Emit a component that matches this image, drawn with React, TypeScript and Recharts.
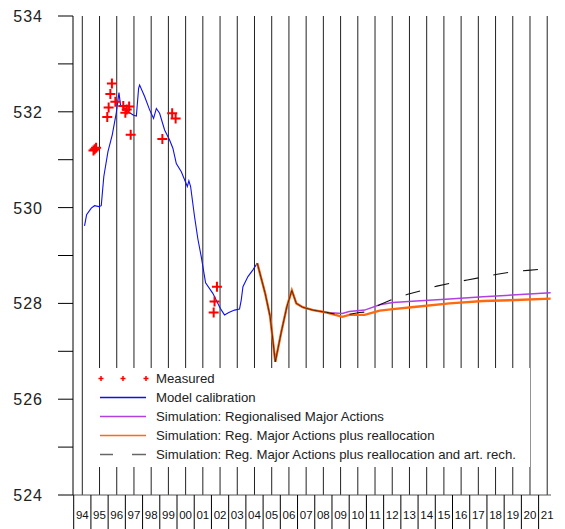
import React from "react";
import {
  ComposedChart,
  Line,
  Scatter,
  XAxis,
  YAxis,
  ReferenceLine,
} from "recharts";

// groundwater level (m)
const calibYears = [
  1994.13, 1994.25, 1994.52, 1994.71, 1994.97, 1995.1, 1995.25, 1995.49, 1995.74, 1995.97,
  1996.13, 1996.22, 1996.46, 1996.75, 1996.98, 1997.14, 1997.27, 1997.33, 1997.62, 1997.91,
  1998.14, 1998.3, 1998.49, 1998.78, 1999.07, 1999.26, 1999.46, 1999.75, 2000.1, 2000.19,
  2000.29, 2000.52, 2000.71, 2000.91, 2001.16, 2001.58, 2002.01, 2002.26, 2002.51, 2002.84,
  2003.13, 2003.23, 2003.33, 2003.62, 2003.91, 2004.16,
];
const calibLevels = [
  529.62, 529.85, 529.99, 530.04, 530.02, 530.04, 530.65, 531.17, 531.52, 531.97,
  532.4, 532.14, 532.07, 531.98, 531.93, 531.91, 532.49, 532.56, 532.32, 532.04,
  531.86, 532.07, 531.97, 531.62, 531.41, 531.24, 530.92, 530.75, 530.44, 530.56,
  530.44, 529.81, 529.35, 528.97, 528.43, 528.21, 527.9, 527.76, 527.81, 527.86,
  527.88, 528.07, 528.35, 528.56, 528.7, 528.84,
];

// all three simulations share this stretch
const simYears = [2004.16, 2004.62, 2004.91, 2005.21, 2005.56, 2005.88, 2006.17, 2006.43, 2006.8, 2007.4, 2008.2];
const simLevels = [528.84, 528.21, 527.72, 526.78, 527.41, 527.93, 528.27, 528.0, 527.92, 527.86, 527.81];

const forecastYears = [2009.1, 2009.5, 2010.4, 2011.27, 2012.04, 2013.4, 2015.33, 2017.27, 2019.2, 2021.2];
const regionalLevels = [527.79, 527.83, 527.86, 527.97, 528.02, 528.05, 528.09, 528.14, 528.18, 528.22];
const reallocLevels = [527.72, 527.76, 527.76, 527.85, 527.88, 527.93, 528.0, 528.05, 528.07, 528.1];

const rechargeYears = [
  2008.2, 2009.1, 2010.1, 2010.5, 2011.27, 2012.04, 2012.9, 2013.74, 2014.59, 2015.48,
  2016.36, 2017.27, 2018.1, 2019.0, 2019.88, 2020.79, 2021.2,
];
const rechargeLevels = [
  527.81, 527.75, 527.81, 527.82, 527.97, 528.09, 528.19, 528.27, 528.36, 528.43,
  528.49, 528.55, 528.61, 528.66, 528.69, 528.72, 528.74,
];

const measuredYears = [
  1994.65, 1994.72, 1994.8, 1995.45, 1995.53, 1995.63, 1995.72, 1995.92, 1996.38, 1996.5,
  1996.58, 1996.72, 1996.81, 1998.65, 1999.22, 1999.42, 2001.63, 2001.68, 2001.82,
];
const measuredLevels = [
  531.19, 531.22, 531.25, 531.89, 532.09, 532.37, 532.59, 532.21, 532.12, 531.98,
  532.05, 532.11, 531.52, 531.43, 531.97, 531.86, 527.81, 528.04, 528.35,
];

const yearTicks = Array.from({ length: 28 }, (_, i) => 1994 + i);
const levelTicks = [524, 525, 526, 527, 528, 529, 530, 531, 532, 533, 534];

const zip = (xs: number[], ys: number[]) => xs.map((x, i) => ({ x, y: ys[i] }));

const calibData = zip(calibYears, calibLevels);
const simData = zip(simYears, simLevels);
const regionalData = simData.concat(zip(forecastYears, regionalLevels));
const reallocData = simData.concat(zip(forecastYears, reallocLevels));
const rechargeData = zip(rechargeYears, rechargeLevels);
const measuredData = zip(measuredYears, measuredLevels);

// year labels sit on the grid lines, separators half a year off
const xTicks = yearTicks.flatMap((yr) => [yr - 0.5, yr]);

const FONT = "'Liberation Sans', Arial, sans-serif";

const XTick = (props: any) => {
  const { x, y, payload } = props;
  const v = payload.value as number;
  if (v % 1 !== 0) {
    return <line x1={x} x2={x} y1={y} y2={y + 34} stroke="#000" strokeWidth={1} />;
  }
  return (
    <text x={x} y={y + 24} textAnchor="middle" fontSize={11.5} fontFamily={FONT} fill="#111">
      {String(v).slice(2)}
    </text>
  );
};

const YTick = (props: any) => {
  const { x, y, payload } = props;
  if (payload.value % 2 !== 0) return null;
  return (
    <text x={x} y={y} dy={6} textAnchor="end" fontSize={16} letterSpacing={1} fontFamily={FONT} fill="#222">
      {payload.value}
    </text>
  );
};

const Cross = (props: any) => {
  const { cx, cy } = props;
  return <path d={`M${cx - 5},${cy}h10M${cx},${cy - 5}v10`} stroke="#ff0000" strokeWidth={2} fill="none" />;
};

const legendRows = [
  { label: "Measured", kind: "measured" },
  { label: "Model calibration", kind: "line", color: "#1010ee" },
  { label: "Simulation: Regionalised Major Actions", kind: "line", color: "#b040e0" },
  { label: "Simulation: Reg. Major Actions plus reallocation", kind: "line", color: "#ff6a10" },
  { label: "Simulation: Reg. Major Actions plus reallocation and art. rech.", kind: "dash", color: "#666" },
];

function LegendBox() {
  return (
    <div
      style={{
        position: "absolute",
        left: 84,
        top: 368,
        width: 446,
        height: 99,
        background: "#fff",
        fontFamily: FONT,
        fontSize: 13.2,
        color: "#222",
      }}
    >
      {legendRows.map((row, i) => (
        <div key={row.label} style={{ position: "absolute", left: 14, top: 1 + i * 19, height: 19, display: "flex", alignItems: "center" }}>
          <svg width={52} height={19}>
            {row.kind === "measured" &&
              [3, 25, 48].map((cx) => (
                <path key={cx} d={`M${cx - 2.5},9.5h5M${cx},7v5`} stroke="#ff0000" strokeWidth={1.5} />
              ))}
            {row.kind === "line" && <line x1={2} x2={48} y1={9.5} y2={9.5} stroke={row.color} strokeWidth={1.5} />}
            {row.kind === "dash" && (
              <>
                <line x1={2} x2={15} y1={9.5} y2={9.5} stroke={row.color} strokeWidth={1.5} />
                <line x1={34} x2={48} y1={9.5} y2={9.5} stroke={row.color} strokeWidth={1.5} />
              </>
            )}
          </svg>
          <span style={{ marginLeft: 6, whiteSpace: "nowrap" }}>{row.label}</span>
        </div>
      ))}
    </div>
  );
}

export default function App() {
  return (
    <div style={{ position: "absolute", left: 0, top: 0, width: 565, height: 529, background: "#fff" }}>
      <ComposedChart width={565} height={529} margin={{ top: 16, right: 14, bottom: 0, left: 0 }}>
        <XAxis
          type="number"
          dataKey="x"
          domain={[1993.46, 2021.22]}
          ticks={xTicks}
          interval={0}
          allowDataOverflow
          height={34}
          tickSize={0}
          tickMargin={0}
          tickLine={false}
          axisLine={{ stroke: "#555" }}
          tick={<XTick />}
        />
        <YAxis
          type="number"
          dataKey="y"
          domain={[524, 534]}
          ticks={levelTicks}
          interval={0}
          width={73}
          tickSize={15}
          tickMargin={15}
          axisLine={{ stroke: "#000" }}
          tickLine={{ stroke: "#000" }}
          tick={<YTick />}
        />
        {yearTicks.map((yr) => (
          <ReferenceLine key={yr} x={yr} stroke="#222" strokeWidth={1} />
        ))}
        <Line data={calibData} dataKey="y" type="linear" stroke="#1010ee" strokeWidth={1.1} dot={false} isAnimationActive={false} />
        <Line data={regionalData} dataKey="y" type="linear" stroke="#b040e0" strokeWidth={1.5} dot={false} isAnimationActive={false} />
        <Line data={reallocData} dataKey="y" type="linear" stroke="#ff6a10" strokeWidth={2.4} dot={false} isAnimationActive={false} />
        <Line data={simData} dataKey="y" type="linear" stroke="#111" strokeWidth={0.7} dot={false} isAnimationActive={false} />
        <Line
          data={rechargeData}
          dataKey="y"
          type="linear"
          stroke="#111"
          strokeWidth={1.1}
          strokeDasharray="15 15"
          strokeDashoffset={7}
          dot={false}
          isAnimationActive={false}
        />
        <Scatter data={measuredData} dataKey="y" shape={<Cross />} isAnimationActive={false} />
      </ComposedChart>
      <LegendBox />
    </div>
  );
}
